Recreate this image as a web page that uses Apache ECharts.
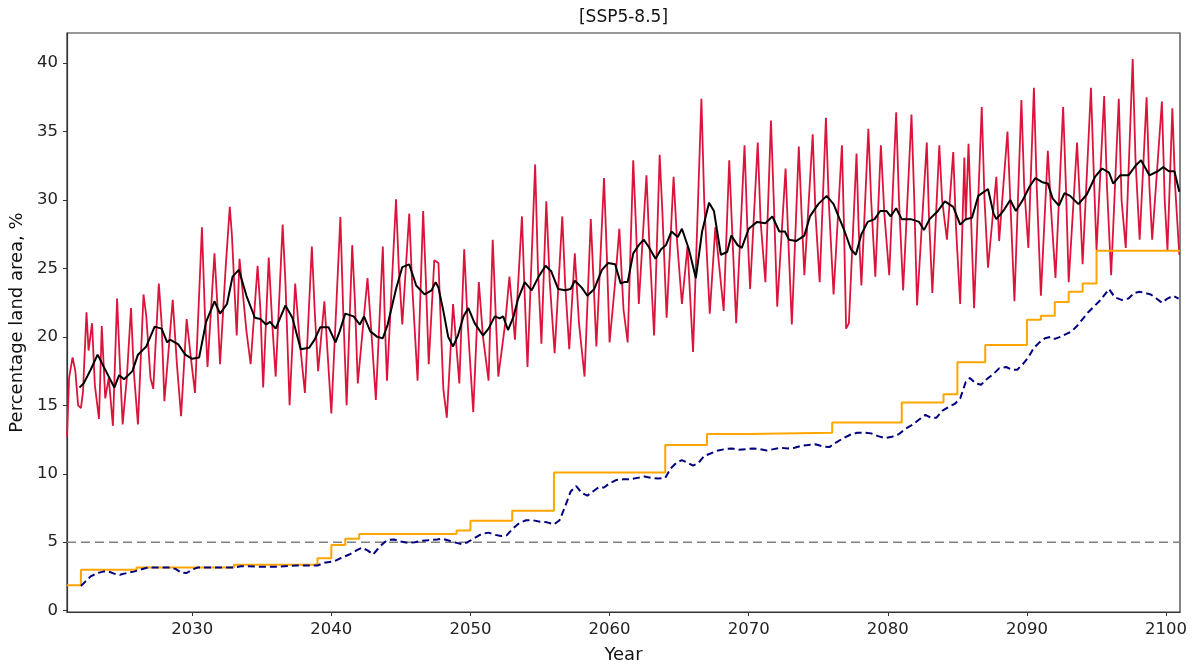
<!DOCTYPE html>
<html>
<head>
<meta charset="utf-8">
<script src="https://cdn.jsdelivr.net/npm/echarts@6/dist/echarts.min.js"></script>
<style>
  html, body { margin: 0; padding: 0; background: #ffffff; }
  #chart { width: 1197px; height: 669px; }
</style>
</head>
<body>
<div id="chart"></div>
<script>
// Monthly drought extent (peaks, troughs and shoulders), [year, %]
const monthlyArea = [
  [2021.0,12.7],[2021.15,17.0],[2021.4,18.5],[2021.6,17.5],[2021.8,15.0],[2022.0,14.8],[2022.15,16.0],
  [2022.4,21.8],[2022.55,19.0],[2022.8,21.0],[2023.0,16.5],[2023.3,14.0],[2023.5,20.8],[2023.75,15.5],
  [2024.0,17.0],[2024.3,13.5],[2024.6,22.8],[2024.8,18.0],[2025.0,13.6],[2025.3,17.0],[2025.6,22.1],
  [2025.8,17.5],[2026.1,13.6],[2026.5,23.1],[2026.7,21.5],[2027.0,17.0],[2027.2,16.2],[2027.6,23.9],
  [2027.8,21.0],[2028.0,15.3],[2028.3,19.0],[2028.6,22.7],[2028.9,18.0],[2029.2,14.2],[2029.6,21.3],
  [2029.9,18.5],[2030.2,15.9],[2030.7,28.0],[2030.9,22.0],[2031.1,17.8],[2031.6,26.1],[2031.8,22.5],
  [2032.0,18.0],[2032.4,25.0],[2032.7,29.5],[2032.85,27.5],[2033.2,20.1],[2033.4,25.7],[2033.9,20.4],
  [2034.2,18.0],[2034.7,25.2],[2034.9,22.0],[2035.1,16.3],[2035.5,25.8],[2035.75,21.0],[2036.0,17.1],
  [2036.5,28.2],[2036.7,24.0],[2037.0,15.0],[2037.4,23.9],[2037.7,20.0],[2038.1,15.9],[2038.6,26.6],
  [2038.8,22.0],[2039.05,17.5],[2039.5,22.6],[2039.75,18.5],[2040.0,14.4],[2040.65,28.75],[2040.85,22.0],
  [2041.1,15.0],[2041.5,26.7],[2041.7,22.5],[2041.9,16.6],[2042.6,24.3],[2042.9,20.0],[2043.2,15.4],
  [2043.7,26.6],[2043.85,21.0],[2044.0,16.8],[2044.65,30.05],[2044.85,25.0],[2045.1,20.9],[2045.6,29.0],
  [2045.8,24.0],[2046.2,16.8],[2046.6,29.2],[2046.8,24.0],[2047.0,18.0],[2047.4,25.6],[2047.7,25.4],
  [2048.05,16.2],[2048.3,14.1],[2048.75,22.4],[2049.2,16.6],[2049.55,26.4],[2049.8,21.0],[2050.2,14.5],
  [2050.6,24.0],[2050.9,20.0],[2051.3,16.8],[2051.6,27.1],[2051.8,22.0],[2052.0,17.1],[2052.5,21.0],
  [2052.8,24.4],[2053.2,19.8],[2053.7,28.8],[2053.9,23.0],[2054.1,17.8],[2054.65,32.6],[2054.85,25.0],
  [2055.1,19.5],[2055.45,29.9],[2055.7,24.0],[2056.05,18.8],[2056.6,28.8],[2056.8,24.0],[2057.1,19.1],
  [2057.5,26.1],[2057.8,21.0],[2058.2,17.1],[2058.65,28.6],[2058.85,24.0],[2059.05,19.3],[2059.6,31.6],
  [2059.8,26.0],[2060.0,19.6],[2060.4,24.0],[2060.7,27.9],[2061.0,22.0],[2061.3,19.6],[2061.7,32.9],
  [2061.9,28.0],[2062.1,22.4],[2062.65,31.8],[2062.85,27.0],[2063.2,20.1],[2063.6,33.3],[2063.8,29.0],
  [2064.1,21.4],[2064.6,31.7],[2064.85,27.0],[2065.2,22.4],[2065.6,26.6],[2066.0,18.9],[2066.6,37.4],
  [2066.8,30.0],[2067.2,21.7],[2067.6,28.0],[2068.2,21.9],[2068.6,32.9],[2068.8,28.0],[2069.1,21.0],
  [2069.7,34.0],[2069.9,28.0],[2070.1,23.5],[2070.65,34.2],[2070.85,28.5],[2071.2,24.0],[2071.6,35.8],
  [2071.8,30.0],[2072.05,22.2],[2072.65,32.3],[2072.85,27.0],[2073.1,20.9],[2073.6,33.9],[2073.8,29.0],
  [2074.0,24.5],[2074.6,34.8],[2074.8,29.0],[2075.1,24.0],[2075.55,36.0],[2075.75,30.0],[2076.1,23.1],
  [2076.7,34.0],[2076.85,28.0],[2077.0,20.6],[2077.2,21.0],[2077.75,33.4],[2077.9,28.0],[2078.1,23.75],
  [2078.6,35.2],[2078.8,30.0],[2079.1,24.4],[2079.5,34.0],[2079.75,29.0],[2080.1,24.5],[2080.6,36.4],
  [2080.8,30.0],[2081.1,23.4],[2081.7,36.25],[2081.9,30.0],[2082.1,22.3],[2082.8,34.2],[2082.95,29.0],
  [2083.2,23.2],[2083.7,34.0],[2083.9,30.0],[2084.25,27.1],[2084.7,33.5],[2084.9,28.0],[2085.2,22.4],
  [2085.5,33.1],[2085.6,28.5],[2085.8,34.1],[2086.2,22.1],[2086.75,36.8],[2086.95,30.0],[2087.2,25.05],
  [2087.8,31.7],[2088.0,27.0],[2088.6,35.0],[2088.8,30.0],[2089.1,22.6],[2089.6,37.3],[2089.8,31.0],
  [2090.1,26.5],[2090.5,38.2],[2090.7,31.0],[2091.0,23.0],[2091.5,33.6],[2091.75,29.0],[2092.05,24.3],
  [2092.6,36.8],[2092.8,31.0],[2093.0,24.0],[2093.6,34.2],[2093.8,30.0],[2094.0,25.3],[2094.6,38.2],
  [2094.8,32.0],[2095.0,26.35],[2095.55,37.6],[2095.75,31.0],[2096.05,24.5],[2096.6,37.4],[2096.8,30.0],
  [2097.1,26.5],[2097.6,40.3],[2097.8,33.0],[2098.1,27.1],[2098.6,37.5],[2098.8,31.0],[2099.0,27.1],
  [2099.7,37.2],[2099.9,30.0],[2100.1,26.35],[2100.45,36.7],[2100.65,31.0],[2100.95,26.0]
];

// Running mean of the monthly extent, [year, %]
const runningMean = [
  [2021.9,16.3],[2022.2,16.6],[2022.7,17.6],[2023.2,18.7],[2023.8,17.5],[2024.4,16.3],[2024.75,17.2],
  [2025.1,16.9],[2025.7,17.5],[2026.1,18.7],[2026.7,19.3],[2027.3,20.75],[2027.8,20.6],[2028.2,19.6],
  [2028.4,19.8],[2029.0,19.45],[2029.5,18.7],[2030.0,18.4],[2030.5,18.5],[2031.0,21.1],[2031.6,22.6],
  [2032.0,21.7],[2032.5,22.4],[2032.9,24.4],[2033.35,24.9],[2033.9,23.0],[2034.2,22.2],[2034.5,21.4],
  [2034.9,21.3],[2035.3,20.9],[2035.6,21.1],[2036.0,20.6],[2036.7,22.3],[2037.2,21.4],[2037.8,19.1],
  [2038.4,19.2],[2038.8,19.8],[2039.2,20.7],[2039.8,20.7],[2040.3,19.6],[2040.6,20.4],[2041.0,21.7],
  [2041.6,21.5],[2042.05,20.9],[2042.35,21.5],[2042.8,20.4],[2043.3,20.0],[2043.7,19.9],[2044.05,20.9],
  [2044.65,23.5],[2045.1,25.1],[2045.6,25.3],[2046.1,23.75],[2046.7,23.1],[2047.2,23.4],[2047.5,24.0],
  [2047.7,23.6],[2048.05,21.9],[2048.4,20.0],[2048.75,19.3],[2049.1,20.1],[2049.5,21.5],[2049.85,22.1],
  [2050.3,21.0],[2050.9,20.1],[2051.3,20.6],[2051.75,21.5],[2052.1,21.35],[2052.35,21.5],[2052.7,20.5],
  [2053.1,21.5],[2053.4,22.7],[2053.9,24.0],[2054.4,23.4],[2054.9,24.4],[2055.4,25.2],[2055.8,24.8],
  [2056.3,23.5],[2056.8,23.4],[2057.2,23.5],[2057.5,24.1],[2058.0,23.6],[2058.4,23.0],[2058.9,23.5],
  [2059.45,24.9],[2059.9,25.4],[2060.4,25.3],[2060.8,23.9],[2061.05,24.0],[2061.3,24.0],[2061.7,26.1],
  [2062.1,26.7],[2062.45,27.1],[2062.8,26.6],[2063.3,25.7],[2063.7,26.4],[2064.05,26.7],[2064.45,27.7],
  [2064.9,27.3],[2065.2,27.9],[2065.7,26.4],[2066.2,24.3],[2066.65,27.7],[2067.15,29.8],[2067.5,29.2],
  [2068.0,26.0],[2068.45,26.2],[2068.75,27.4],[2069.2,26.7],[2069.5,26.5],[2070.0,27.9],[2070.6,28.4],
  [2071.2,28.3],[2071.7,28.8],[2072.2,27.7],[2072.6,27.7],[2072.9,27.1],[2073.4,27.0],[2074.0,27.4],
  [2074.4,28.8],[2075.0,29.7],[2075.6,30.3],[2076.1,29.7],[2076.5,28.7],[2076.9,27.7],[2077.35,26.4],
  [2077.7,26.0],[2078.1,27.5],[2078.55,28.4],[2079.05,28.6],[2079.45,29.2],[2079.9,29.2],[2080.2,28.8],
  [2080.6,29.4],[2081.0,28.6],[2081.65,28.6],[2082.25,28.4],[2082.6,27.8],[2083.0,28.6],[2083.6,29.2],
  [2084.1,29.9],[2084.7,29.5],[2085.2,28.2],[2085.6,28.6],[2086.05,28.7],[2086.5,30.3],[2087.2,30.8],
  [2087.6,29.0],[2087.8,28.6],[2088.3,29.2],[2088.8,30.0],[2089.2,29.2],[2089.7,30.0],[2090.2,31.0],
  [2090.6,31.6],[2091.1,31.3],[2091.5,31.2],[2091.85,30.1],[2092.3,29.6],[2092.7,30.5],[2093.1,30.3],
  [2093.7,29.7],[2094.3,30.4],[2094.9,31.7],[2095.4,32.3],[2095.9,32.0],[2096.2,31.2],[2096.7,31.8],
  [2097.3,31.8],[2097.8,32.5],[2098.2,32.9],[2098.8,31.8],[2099.4,32.1],[2099.8,32.4],[2100.2,32.1],
  [2100.6,32.1],[2100.95,30.6]
];

// Stepwise extent (level held until the next change), [year, %]
const stepLevels = [
  [2021,1.85],[2022,2.99],[2026,3.16],[2033,3.35],[2039,3.83],[2040,4.8],[2041,5.26],[2042,5.6],
  [2049,5.85],[2050,6.56],[2053,7.3],[2056,10.1],[2064,12.1],[2067,12.9],[2070,13.0],[2076,13.75],
  [2081,15.2],[2084,15.8],[2085,18.15],[2087,19.4],[2090,21.25],[2091,21.55],[2092,22.55],[2093,23.3],
  [2094,23.9],[2095,26.3],[2101,26.3]
];

// Smoothed extent, dashed, [year, %]
const smoothedArea = [
  [2022.0,1.8],[2022.3,2.1],[2022.7,2.5],[2023.2,2.75],[2023.6,2.85],[2024.0,2.85],[2024.4,2.7],
  [2024.8,2.62],[2025.3,2.75],[2025.8,2.85],[2026.3,3.0],[2026.8,3.15],[2027.5,3.15],[2028.3,3.15],
  [2028.8,3.05],[2029.2,2.78],[2029.6,2.75],[2030.0,3.0],[2030.4,3.15],[2031.5,3.15],[2033.0,3.15],
  [2033.5,3.25],[2035.0,3.2],[2036.0,3.2],[2037.5,3.3],[2039.0,3.3],[2039.5,3.5],[2040.2,3.6],
  [2040.8,3.9],[2041.3,4.1],[2041.8,4.4],[2042.2,4.6],[2042.6,4.4],[2043.0,4.1],[2043.5,4.7],
  [2044.0,5.15],[2044.5,5.2],[2045.0,5.05],[2045.5,4.95],[2046.0,5.0],[2046.5,5.1],[2047.0,5.15],
  [2047.6,5.2],[2048.0,5.25],[2048.5,5.1],[2049.0,4.95],[2049.4,4.85],[2049.8,5.0],[2050.3,5.3],
  [2050.8,5.6],[2051.3,5.7],[2051.7,5.55],[2052.2,5.45],[2052.6,5.5],[2053.0,5.95],[2053.5,6.4],
  [2054.0,6.6],[2054.5,6.6],[2055.0,6.5],[2055.5,6.45],[2056.0,6.3],[2056.4,6.6],[2056.8,7.6],
  [2057.2,8.7],[2057.6,9.1],[2058.0,8.6],[2058.4,8.4],[2058.8,8.7],[2059.2,9.0],[2059.6,9.0],
  [2060.0,9.3],[2060.5,9.55],[2061.0,9.6],[2061.5,9.6],[2062.0,9.7],[2062.5,9.8],[2063.0,9.7],
  [2063.5,9.65],[2064.0,9.7],[2064.4,10.4],[2064.8,10.8],[2065.2,11.0],[2065.6,10.8],[2066.0,10.6],
  [2066.4,10.8],[2066.8,11.3],[2067.3,11.5],[2067.8,11.7],[2068.3,11.8],[2068.8,11.85],[2069.3,11.75],
  [2069.8,11.8],[2070.3,11.85],[2070.8,11.8],[2071.3,11.7],[2071.8,11.8],[2072.3,11.9],[2072.8,11.85],
  [2073.3,11.9],[2073.8,12.05],[2074.3,12.1],[2074.8,12.15],[2075.3,12.0],[2075.8,11.95],[2076.3,12.3],
  [2076.8,12.6],[2077.3,12.85],[2077.8,13.0],[2078.3,13.0],[2078.8,12.95],[2079.3,12.75],[2079.8,12.6],
  [2080.3,12.7],[2080.8,12.9],[2081.3,13.3],[2081.8,13.6],[2082.3,14.0],[2082.7,14.3],[2083.1,14.1],
  [2083.5,14.1],[2083.9,14.6],[2084.4,14.9],[2084.8,15.1],[2085.2,15.5],[2085.6,16.7],[2085.9,17.0],
  [2086.3,16.6],[2086.7,16.5],[2087.1,16.9],[2087.6,17.3],[2088.0,17.7],[2088.5,17.8],[2088.9,17.6],
  [2089.3,17.6],[2089.7,18.0],[2090.1,18.5],[2090.5,19.2],[2090.9,19.6],[2091.3,19.9],[2091.7,20.0],
  [2092.0,19.85],[2092.4,20.0],[2092.8,20.2],[2093.2,20.4],[2093.6,20.8],[2094.0,21.3],[2094.4,21.8],
  [2094.8,22.2],[2095.2,22.6],[2095.6,23.1],[2095.9,23.5],[2096.3,22.9],[2096.8,22.7],[2097.3,22.8],
  [2097.7,23.2],[2098.1,23.3],[2098.5,23.2],[2098.9,23.1],[2099.3,22.8],[2099.7,22.5],[2100.1,22.8],
  [2100.5,23.0],[2100.9,22.8]
];

// Horizontal 5 % reference level
const thresholdLine = [[2021, 5], [2101, 5]];

const yearTicks = [2030, 2040, 2050, 2060, 2070, 2080, 2090, 2100];
const percentTicks = [0, 5, 10, 15, 20, 25, 30, 35, 40];

const chart = echarts.init(document.getElementById('chart'), null, { renderer: 'canvas' });

const axisColor = '#333333';
const labelFont = 'DejaVu Sans';

chart.setOption({
  animation: false,
  backgroundColor: '#ffffff',
  textStyle: { fontFamily: labelFont },
  grid: {
    left: 67, right: 17, top: 33, bottom: 55,
    show: true, borderColor: axisColor, borderWidth: 1.2, backgroundColor: 'transparent'
  },
  graphic: [{
    type: 'text',
    x: 623.5, y: 18,
    style: {
      text: '[SSP5-8.5]',
      fontFamily: labelFont, fontSize: 17, fill: '#111',
      textAlign: 'center', textVerticalAlign: 'middle'
    }
  }],
  xAxis: {
    type: 'value', min: 2021, max: 2101,
    name: 'Year', nameLocation: 'middle', nameGap: 34,
    nameTextStyle: { fontSize: 18, color: '#111', fontFamily: labelFont },
    axisLine: { show: true, onZero: false, lineStyle: { color: axisColor, width: 1.2 } },
    axisTick: { show: true, length: 4, customValues: yearTicks, lineStyle: { color: axisColor } },
    axisLabel: {
      customValues: yearTicks, fontSize: 16.5, color: '#222', margin: 9, fontFamily: labelFont,
      formatter: (v) => String(Math.round(v))
    },
    splitLine: { show: false }
  },
  yAxis: {
    type: 'value', min: -0.1, max: 42.2,
    name: 'Percentage land area, %', nameLocation: 'middle', nameGap: 40, nameRotate: 90,
    nameTextStyle: { fontSize: 18, color: '#111', fontFamily: labelFont },
    axisLine: { show: true, onZero: false, lineStyle: { color: axisColor, width: 1.2 } },
    axisTick: { show: true, length: 4, customValues: percentTicks, lineStyle: { color: axisColor } },
    axisLabel: {
      customValues: percentTicks, fontSize: 16.5, color: '#222', margin: 9, fontFamily: labelFont,
      formatter: (v) => String(Math.round(v))
    },
    splitLine: { show: false }
  },
  series: [
    {
      name: 'monthly', type: 'line', data: monthlyArea, showSymbol: false,
      lineStyle: { color: '#dc143c', width: 1.8 }, z: 2
    },
    {
      name: 'mean', type: 'line', data: runningMean, showSymbol: false,
      lineStyle: { color: '#000000', width: 2 }, z: 3
    },
    {
      name: 'threshold', type: 'line', data: thresholdLine, showSymbol: false,
      lineStyle: { color: '#808080', width: 1.5, type: [9, 5] }, z: 2
    },
    {
      name: 'steps', type: 'line', data: stepLevels, step: 'end', showSymbol: false,
      lineStyle: { color: '#ffa500', width: 2 }, z: 4
    },
    {
      name: 'smoothed', type: 'line', data: smoothedArea, showSymbol: false,
      lineStyle: { color: '#000080', width: 2, type: [7, 4] }, z: 5
    }
  ]
});
</script>
</body>
</html>
